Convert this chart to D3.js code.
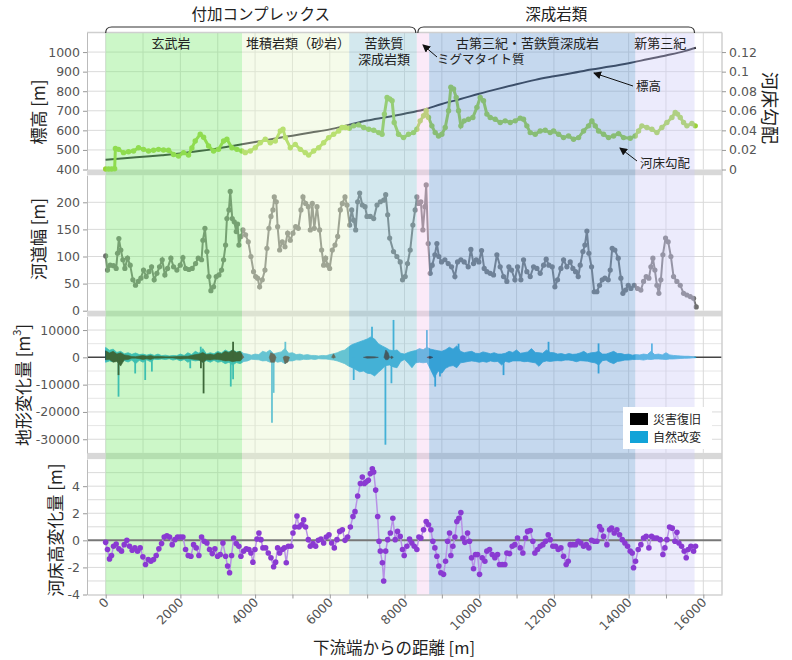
<!DOCTYPE html>
<html>
<head>
<meta charset="utf-8">
<script src="https://cdn.jsdelivr.net/npm/d3@7"></script>
<style>
  body { margin: 0; background: #fff; }
  svg text { font-family: 'Noto Sans CJK JP', 'Noto Sans', sans-serif; }
  .tick text { font-family: 'DejaVu Sans', sans-serif; }
</style>
</head>
<body>
<script>
// distance from downstream end [m] vs elevation [m]
const elevation = [
  [0, 450], [500, 457], [1000, 465], [1500, 473], [2000, 482], [2500, 494], [3000, 508],
  [3500, 524], [4000, 540], [4500, 557], [5000, 573], [5500, 589], [6000, 605], [6500, 628],
  [7000, 650], [7500, 667], [8000, 685], [8500, 705], [9000, 735], [9500, 760], [10000, 787],
  [10500, 812], [11000, 836], [11500, 858], [12000, 876], [12500, 893], [13000, 911],
  [13500, 926], [14000, 943], [14500, 963], [15000, 983], [15500, 1005], [15800, 1022]
]

// bed gradient (right axis)
const bedGradient = [
  [0, 0.0005], [80, 0.0005], [160, 0.0005], [240, 0.0008], [260, 0.0215], [344, 0.0206],
  [478, 0.0172], [612, 0.0182], [746, 0.0189], [879, 0.0223], [1013, 0.0206], [1147, 0.0189],
  [1281, 0.0196], [1415, 0.0206], [1549, 0.0199], [1683, 0.0196], [1817, 0.0154], [1951, 0.0137],
  [2085, 0.0172], [2219, 0.0147], [2308, 0.022], [2397, 0.0292], [2531, 0.036], [2621, 0.033],
  [2755, 0.024], [2888, 0.0189], [3022, 0.0206], [3156, 0.0292], [3246, 0.0309], [3380, 0.0223],
  [3513, 0.0206], [3647, 0.0189], [3737, 0.0172], [3871, 0.0189], [4005, 0.0223], [4139, 0.0274],
  [4273, 0.0309], [4407, 0.0274], [4541, 0.0292], [4675, 0.0394], [4747, 0.0412], [4810, 0.0326],
  [4943, 0.0223], [5077, 0.0257], [5211, 0.0206], [5345, 0.0172], [5434, 0.0147], [5568, 0.0189],
  [5702, 0.0223], [5836, 0.0274], [5970, 0.0326], [6104, 0.036], [6238, 0.0394], [6327, 0.0429],
  [6417, 0.0429], [6523, 0.0422], [6640, 0.0446], [6774, 0.0456], [6908, 0.0429], [7042, 0.0412],
  [7176, 0.0401], [7310, 0.0377], [7400, 0.036], [7462, 0.0566], [7534, 0.0737], [7605, 0.072],
  [7668, 0.0703], [7724, 0.048], [7840, 0.036], [7974, 0.0326], [8108, 0.036], [8242, 0.0377],
  [8331, 0.0412], [8420, 0.0497], [8510, 0.0549], [8581, 0.06], [8643, 0.0532], [8733, 0.0446],
  [8822, 0.0377], [8911, 0.0343], [9000, 0.036], [9090, 0.0429], [9179, 0.06], [9241, 0.084],
  [9313, 0.0823], [9384, 0.0737], [9447, 0.06], [9509, 0.0446], [9598, 0.0497], [9714, 0.0514],
  [9830, 0.0532], [9938, 0.0635], [10027, 0.0737], [10116, 0.0703], [10205, 0.0566], [10295, 0.0532],
  [10428, 0.0514], [10562, 0.048], [10696, 0.0497], [10830, 0.048], [10964, 0.0497], [11098, 0.0525],
  [11187, 0.0514], [11276, 0.0446], [11366, 0.0377], [11499, 0.036], [11633, 0.0394], [11767, 0.0401],
  [11901, 0.0377], [11990, 0.0394], [12124, 0.036], [12258, 0.0326], [12392, 0.0343], [12526, 0.0309],
  [12660, 0.0326], [12794, 0.0394], [12927, 0.0446], [13017, 0.0497], [13106, 0.0446], [13196, 0.0394],
  [13329, 0.036], [13463, 0.0326], [13597, 0.0343], [13731, 0.0367], [13865, 0.0326], [14043, 0.0319],
  [14177, 0.0343], [14266, 0.0394], [14355, 0.0446], [14489, 0.0429], [14623, 0.0412], [14757, 0.0377],
  [14891, 0.0429], [15025, 0.048], [15159, 0.0532], [15248, 0.0583], [15310, 0.0566], [15382, 0.0532],
  [15471, 0.048], [15560, 0.0446], [15694, 0.047], [15783, 0.0446]
]

// channel width [m]
const channelWidth = [
  [0, 101], [49, 75], [121, 84], [210, 83], [281, 78], [317, 106], [353, 133], [406, 112], [460, 94],
  [513, 78], [585, 97], [656, 84], [728, 57], [799, 47], [871, 54], [942, 60], [1013, 75], [1085, 63],
  [1156, 72], [1228, 81], [1299, 57], [1371, 69], [1442, 81], [1514, 94], [1585, 66], [1657, 78],
  [1746, 97], [1817, 81], [1906, 75], [1996, 84], [2067, 98], [2139, 78], [2228, 76], [2317, 78],
  [2407, 87], [2478, 97], [2567, 94], [2603, 130], [2657, 152], [2710, 109], [2764, 63], [2817, 37],
  [2889, 44], [2960, 63], [3032, 66], [3103, 75], [3157, 94], [3210, 121], [3246, 170], [3300, 186],
  [3335, 220], [3389, 170], [3442, 164], [3496, 146], [3532, 160], [3567, 121], [3621, 137], [3675, 149],
  [3746, 140], [3817, 127], [3889, 100], [3960, 72], [4014, 63], [4067, 60], [4121, 44], [4192, 57],
  [4264, 75], [4317, 115], [4371, 152], [4425, 174], [4478, 186], [4514, 210], [4568, 201], [4603, 155],
  [4657, 112], [4728, 127], [4800, 118], [4871, 143], [4943, 130], [5014, 143], [5086, 155], [5157, 152],
  [5228, 186], [5282, 210], [5353, 198], [5425, 192], [5478, 149], [5532, 198], [5585, 152], [5657, 192],
  [5728, 149], [5782, 112], [5835, 84], [5889, 97], [5943, 84], [5996, 78], [6068, 112], [6139, 121],
  [6211, 137], [6282, 186], [6336, 198], [6407, 210], [6460, 195], [6532, 158], [6586, 186], [6639, 167],
  [6693, 149], [6746, 201], [6800, 217], [6871, 195], [6943, 192], [6996, 174], [7085, 174], [7175, 170],
  [7264, 195], [7353, 201], [7443, 204], [7496, 214], [7550, 177], [7603, 134], [7706, 109], [7796, 100],
  [7885, 90], [7947, 57], [8019, 63], [8081, 87], [8153, 112], [8224, 158], [8286, 186], [8331, 210],
  [8376, 198], [8438, 201], [8492, 149], [8545, 192], [8581, 232], [8634, 124], [8688, 69], [8742, 84],
  [8813, 103], [8867, 124], [8920, 100], [8991, 90], [9081, 94], [9170, 87], [9259, 81], [9349, 63],
  [9420, 90], [9509, 94], [9598, 90], [9705, 81], [9777, 113], [9848, 87], [9920, 94], [9991, 90],
  [10063, 111], [10134, 78], [10205, 72], [10295, 69], [10384, 66], [10473, 103], [10562, 81], [10652, 63],
  [10741, 54], [10794, 81], [10866, 75], [10955, 57], [11026, 81], [11116, 57], [11187, 94], [11276, 72],
  [11366, 63], [11455, 81], [11544, 78], [11633, 69], [11723, 84], [11794, 95], [11865, 84], [11955, 81],
  [12026, 44], [12097, 57], [12187, 78], [12258, 94], [12347, 81], [12437, 90], [12508, 78], [12579, 72],
  [12651, 63], [12704, 84], [12776, 109], [12829, 121], [12883, 147], [12936, 106], [13008, 81], [13079, 35],
  [13151, 35], [13222, 47], [13293, 57], [13365, 60], [13454, 57], [13508, 75], [13561, 115], [13632, 112],
  [13722, 97], [13793, 60], [13847, 32], [13918, 38], [13990, 47], [14061, 41], [14150, 47], [14239, 41],
  [14328, 38], [14400, 54], [14471, 63], [14543, 60], [14596, 81], [14650, 97], [14703, 75], [14757, 47],
  [14810, 32], [14864, 57], [14917, 103], [14989, 134], [15060, 127], [15132, 100], [15203, 63], [15292, 54],
  [15382, 47], [15471, 32], [15560, 29], [15650, 26], [15739, 23], [15810, 7]
]

// terrain change [m3]: natural change envelope [distance, max, min]
const naturalChange = [
  [0, 3600, -1800], [100, 2600, -1300], [200, 3000, -1600], [300, 1800, -1000], [400, 2200, -1900],
  [500, 1300, -1200], [600, 1700, -1700], [700, 1100, -1000], [800, 1600, -2300], [900, 1000, -1100],
  [1000, 1200, -1800], [1100, 800, -900], [1200, 1200, -1600], [1300, 700, -700], [1400, 1200, -800],
  [1500, 600, -600], [1600, 800, -800], [1700, 500, -500], [1800, 700, -1000], [1900, 600, -700],
  [2000, 1200, -1300], [2100, 700, -800], [2200, 1700, -1800], [2300, 1000, -1000], [2400, 2200, -1300],
  [2500, 1500, -1100], [2600, 3200, -1800], [2700, 1200, -1200], [2800, 1700, -1800], [2900, 1300, -1100],
  [3000, 2200, -1800], [3100, 1600, -1500], [3200, 2700, -2300], [3300, 2000, -1800], [3400, 2700, -2800],
  [3500, 2000, -1900], [3600, 2200, -2300], [3700, 1400, -1500], [3800, 1200, -1300], [3900, 800, -700],
  [4000, 1200, -800], [4100, 1000, -900], [4200, 2200, -1300], [4300, 1800, -1200], [4400, 2700, -1800],
  [4500, 1300, -1100], [4600, 1700, -1800], [4700, 2000, -1500], [4800, 3200, -2300], [4900, 1500, -1300],
  [5000, 1700, -1300], [5100, 1000, -900], [5200, 1200, -1000], [5300, 800, -700], [5400, 1000, -800],
  [5500, 700, -600], [5600, 700, -800], [5700, 500, -500], [5800, 700, -600], [5900, 600, -600],
  [6000, 1000, -800], [6100, 1300, -1000], [6200, 1700, -1300], [6300, 2300, -1800], [6400, 2700, -2300],
  [6500, 3800, -3200], [6600, 4700, -3800], [6700, 5200, -4500], [6800, 5700, -5300], [6900, 6200, -5000],
  [7000, 6700, -5800], [7100, 7500, -6000], [7200, 6700, -6800], [7300, 5000, -5500], [7400, 4200, -4300],
  [7500, 3500, -3000], [7600, 2700, -2800], [7700, 2400, -3500], [7800, 2700, -3800], [7900, 1500, -1500],
  [8000, 1200, -800], [8100, 1800, -2200], [8200, 2200, -3800], [8300, 2500, -2000], [8400, 3200, -1800],
  [8500, 2800, -2000], [8600, 3700, -1800], [8700, 3000, -4500], [8800, 2700, -7400], [8900, 2400, -5000],
  [9000, 2200, -5800], [9100, 2800, -4000], [9200, 3700, -3300], [9300, 3000, -3000], [9400, 4200, -3800],
  [9500, 2200, -2000], [9600, 1700, -1800], [9700, 2000, -1500], [9800, 2200, -1300], [9900, 1500, -1500],
  [10000, 1400, -1800], [10100, 2000, -1500], [10200, 1700, -1800], [10300, 1300, -1300], [10400, 1700, -1600],
  [10500, 1200, -1500], [10600, 1200, -2800], [10700, 1500, -1500], [10800, 2200, -1800], [10900, 1800, -1300],
  [11000, 2700, -1300], [11100, 1500, -1300], [11200, 1700, -1600], [11300, 2000, -1500], [11400, 3200, -1800],
  [11500, 1800, -2000], [11600, 1700, -3300], [11700, 1500, -1700], [11800, 2700, -1300], [11900, 1800, -1500],
  [12000, 1700, -1300], [12100, 1200, -1200], [12200, 1400, -1300], [12300, 1000, -1000], [12400, 1400, -1000],
  [12500, 1100, -1200], [12600, 1200, -1600], [12700, 1600, -1200], [12800, 2200, -1300], [12900, 1300, -1400],
  [13000, 1700, -1800], [13100, 1800, -2000], [13200, 2200, -2800], [13300, 1200, -1200], [13400, 1200, -1000],
  [13500, 1700, -1800], [13600, 2200, -2300], [13700, 1400, -1500], [13800, 1400, -1300], [13900, 1000, -1000],
  [14000, 1200, -1000], [14100, 800, -800], [14200, 1000, -800], [14300, 900, -800], [14400, 1200, -1000],
  [14500, 1000, -700], [14600, 2200, -800], [14700, 1000, -600], [14800, 1200, -600], [14900, 900, -700],
  [15000, 1700, -800], [15100, 900, -600], [15200, 700, -600], [15300, 600, -500], [15400, 500, -400],
  [15500, 400, -350], [15600, 400, -300], [15700, 250, -200], [15800, 100, -100]
]
const naturalSpikes = [
  [344, -14400], [790, -5900], [1058, -8300], [1237, -5200], [2264, -4000], [2545, 3900], [3349, -10700],
  [3411, -8000], [4452, -24000], [4497, -13000], [4810, 5700], [6640, -8300], [7130, 11200], [7489, -32000],
  [7650, -9500], [7706, 13700], [8599, 10000], [8822, -10700], [8950, -7000], [9447, 5000], [10651, -6500],
  [11856, 5700], [13195, 5100], [13195, -5900], [14623, 5100]
]

// disaster recovery envelope (null = gap)
const disasterRecovery = [
  [0, 2400, -900], [100, 1600, -800], [200, 2200, -1800], [300, 1200, -1500], [400, 1700, -3200],
  [500, 900, -900], [600, 700, -800], [700, 300, -300], [800, 250, -300], [900, 500, -500],
  [1000, 700, -800], [1100, 400, -500], [1200, 700, -800], [1300, 300, -300], [1400, 400, -300],
  [1600, 200, -200], [1800, 200, -200], [2000, 400, -600], [2200, 400, -400], [2400, 1000, -800],
  [2500, 1200, -1000], [2600, 1800, -1800], [2700, 1000, -900], [2800, 1200, -1000], [2900, 900, -700],
  [3000, 1700, -800], [3100, 1300, -1000], [3200, 2200, -1300], [3300, 1800, -1200], [3400, 2700, -1600],
  [3500, 1800, -1300], [3600, 2200, -1300], [3700, 0, 0],
  null, [4380, 0, 0], [4420, 1700, -1800], [4520, 1000, -1800], [4560, 0, 0],
  null, [4750, 0, 0], [4800, 500, -2300], [4880, 300, -1700], [4920, 0, 0],
  null, [6050, 0, 0], [6100, 1300, -300], [6150, 0, 0],
  null, [6900, 0, 0], [7000, 300, -300], [7200, 200, -200], [7300, 0, 0],
  null, [7450, 0, 0], [7500, 2700, -900], [7560, 1700, -800], [7600, 0, 0],
  null, [7620, 0, 0], [7650, 500, -500], [7700, 0, 0],
  null, [8600, 0, 0], [8680, 400, -400], [8760, 0, 0]
]
const disasterSpikes = [[344, -6500], [2550, -4000], [2621, -13200], [3411, 5700]]

// bed elevation change [m]
const bedChange = [
  [0, -0.15], [49, -0.68], [103, -1.37], [156, -1.12], [210, -0.44], [281, -0.27], [353, -0.63], [424, -0.8],
  [496, -0.32], [567, 0], [638, -0.44], [710, -0.73], [781, -0.56], [853, -0.8], [924, -0.56], [996, -1.22],
  [1067, -1.78], [1139, -1.41], [1210, -1.54], [1281, -1.41], [1353, -1.12], [1424, -0.63], [1496, -0.24],
  [1567, 0.24], [1639, 0.34], [1710, 0.24], [1781, -0.32], [1853, 0.05], [1924, 0.24], [1996, 0.24],
  [2067, 0.24], [2139, -0.68], [2210, -1.12], [2282, -1.17], [2353, -0.32], [2424, -0.56], [2496, -1.12],
  [2567, 0.24], [2639, -0.07], [2710, -0.2], [2781, -0.68], [2853, -0.98], [2924, -0.63], [2996, -1.17],
  [3067, -1.05], [3139, -0.2], [3210, -1.17], [3264, -1.9], [3317, -2.39], [3371, -1.12], [3424, 0.17],
  [3496, -0.24], [3567, -0.44], [3621, -1.17], [3692, -0.8], [3764, -0.63], [3835, -0.68], [3889, -0.93],
  [3942, -1.61], [3996, -0.68], [4049, 0.1], [4103, 0.54], [4157, 0.05], [4210, -0.56], [4282, -0.56],
  [4353, -0.93], [4425, -1.29], [4496, -1.95], [4550, -1.61], [4603, -0.56], [4657, -0.93], [4728, -0.68],
  [4782, -0.56], [4835, -1.66], [4889, -0.44], [4960, -0.44], [5014, 0.54], [5067, 0.98], [5121, 1.8],
  [5175, 0.98], [5246, 1.15], [5300, 1.51], [5353, 0.98], [5425, 0.05], [5478, -0.44], [5550, -0.24],
  [5621, -0.44], [5692, 0], [5764, 0.1], [5835, -0.2], [5907, 0.24], [5978, 0.41], [6050, -0.2],
  [6121, -0.56], [6192, 0.05], [6264, 0.66], [6336, 0.78], [6407, 0], [6478, 0.24], [6550, 0.98],
  [6621, 1.76], [6675, 2.12], [6746, 3.27], [6818, 4.2], [6871, 4.68], [6925, 4.2], [6978, 4.32],
  [7032, 4.44], [7085, 4.93], [7139, 5.29], [7175, 5.05], [7228, 3.71], [7282, 1.76], [7318, -0.07],
  [7353, -0.8], [7407, -1.66], [7443, -3.0], [7496, -0.8], [7550, 0.05], [7621, 0.54], [7688, 1.63],
  [7751, 0.05], [7813, 0.66], [7885, 0.29], [7947, -0.68], [7992, -1.12], [8063, -0.44], [8135, 0.1],
  [8197, -0.2], [8260, -0.44], [8331, -0.68], [8385, 0.24], [8438, 0.17], [8510, 0.78], [8581, 1.39],
  [8643, 1.15], [8706, 0.78], [8759, -0.07], [8813, -0.56], [8867, -1.17], [8920, -1.9], [8974, -2.39],
  [9045, -2.51], [9099, -1.54], [9152, -0.07], [9206, 0.54], [9241, -1.12], [9295, -0.44], [9349, 0.24],
  [9402, 1.39], [9456, 1.63], [9509, 2.05], [9563, 0.17], [9616, -0.15], [9688, 0.54], [9741, -0.07],
  [9795, -1.29], [9848, -2.1], [9902, -1.05], [9955, -1.05], [10009, -2.51], [10080, -1.29], [10152, -1.54],
  [10205, -0.8], [10277, -0.68], [10348, -1.05], [10419, -1.29], [10491, -1.05], [10544, -1.78],
  [10616, -1.78], [10687, -1.78], [10741, -0.93], [10812, -0.98], [10884, -0.44], [10955, -0.32],
  [11026, 0.17], [11098, -0.56], [11169, -0.93], [11241, 0.17], [11294, 0.66], [11366, 0.73], [11437, -0.07],
  [11490, -0.93], [11562, -0.68], [11633, -0.44], [11705, -0.32], [11776, -0.07], [11848, 0.41], [11901, 0.05],
  [11972, -0.44], [12044, -0.44], [12115, -0.68], [12187, -0.56], [12258, -1.17], [12329, -1.78],
  [12383, -1.54], [12437, -0.32], [12508, -0.32], [12579, -0.32], [12651, -0.07], [12722, -0.2],
  [12794, -0.44], [12865, -0.32], [12936, -0.56], [13008, 0], [13079, -0.07], [13151, -0.07], [13222, 1.02],
  [13275, 0.78], [13329, 0.29], [13418, -0.32], [13490, 0.78], [13543, 0.9], [13614, 0.54], [13686, 0.78],
  [13757, 0.41], [13829, 0.05], [13900, -0.2], [13971, -0.44], [14043, -0.8], [14097, -0.93], [14132, -2.02],
  [14186, -1.54], [14257, -0.68], [14328, -0.32], [14400, 0.17], [14471, 0.29], [14543, -0.56], [14614, 0.29],
  [14685, 0.17], [14757, 0.17], [14846, 0.05], [14918, -1.05], [14971, -0.56], [15025, 0.05], [15096, 0.98],
  [15168, 0.9], [15239, -0.07], [15293, 0.59], [15346, -0.2], [15417, -0.44], [15489, -0.8], [15542, -1.29],
  [15596, -0.68], [15667, -0.44], [15739, -0.8], [15792, -0.44]
]

// geology zones [from, to, colour]
const zones = [
  [0, 3650, '#80eb76'], [3650, 6520, '#e6f5cb'], [6520, 8330, '#91c5d4'],
  [8330, 8660, '#f5caed'], [8660, 14180, '#6e9ed4'], [14180, 15765, '#cfcdf7']
]
const zoneLabels = [
  ['玄武岩', 1750, 0], ['堆積岩類（砂岩）', 5150, 0], ['苦鉄質', 7450, 0], ['深成岩類', 7450, 1],
  ['古第三紀・苦鉄質深成岩', 11290, 0], ['新第三紀', 14850, 0]
]
const groups = [['付加コンプレックス', 0, 8330], ['深成岩類', 8330, 15765]]

const xTicks = d3.range(0, 16001, 2000)
const elevTicks = d3.range(400, 1001, 100)
const gradTicks = [0, 0.02, 0.04, 0.06, 0.08, 0.1, 0.12]
const widthTicks = [0, 50, 100, 150, 200]
const changeTicks = [-30000, -20000, -10000, 0, 10000]
const bedTicks = [-4, -2, 0, 2, 4]

const W = 792, H = 660
const left = 87, right = 722

const x = d3.scaleLinear().domain([-500, 16500]).range([left, right])
const y1 = d3.scaleLinear().domain([400, 1100]).range([169.5, 32.5])
const y1r = d3.scaleLinear().domain([0, 0.14]).range([169.5, 32.5])
const y2 = d3.scaleLinear().domain([0, 250]).range([310.7, 175.2])
const y3 = d3.scaleLinear().domain([-35000, 15000]).range([452.9, 316.4])
const y4 = d3.scaleLinear().domain([-4, 6]).range([594.5, 459.1])

const svg = d3.select(document.body).append('svg').attr('width', W).attr('height', H)

const gridColor = '#dadada'
const grid = svg.append('g')

// horizontal grid lines per panel
const hGrid = (scale, values, color) => {
  grid.selectAll(null).data(values).enter().append('line')
    .attr('x1', left).attr('x2', right)
    .attr('y1', (d) => scale(d)).attr('y2', (d) => scale(d))
    .attr('stroke', color || gridColor).attr('stroke-width', 1)
}
hGrid(y1, d3.range(500, 1101, 100))
hGrid(y2, [50, 100, 150, 200])
hGrid(y3, [-30000, -20000, -10000, 10000])
hGrid(y3, [-25000, -15000, -5000, 5000], '#e6e6e6')
hGrid(y4, [-3, -2, -1, 1, 2, 3, 4, 5])

// vertical grid lines every 1000 m
const panels = [y1, y2, y3, y4]
panels.forEach((s) => {
  grid.selectAll(null).data(d3.range(0, 16001, 1000)).enter().append('line')
    .attr('x1', (d) => x(d)).attr('x2', (d) => x(d))
    .attr('y1', s.range()[1]).attr('y2', s.range()[0])
    .attr('stroke', gridColor).attr('stroke-width', 1)
})

// separators between panels
const seps = [[y1.range()[0], y2.range()[1]], [y2.range()[0], y3.range()[1]], [y3.range()[0], y4.range()[1]]]
svg.selectAll(null).data(seps).enter().append('rect')
  .attr('x', left).attr('width', right - left)
  .attr('y', (d) => d[0]).attr('height', (d) => d[1] - d[0])
  .attr('fill', '#d8d8d8')

// panel 1: elevation and bed gradient
svg.append('path').datum(elevation)
  .attr('fill', 'none').attr('stroke', '#1c1c24').attr('stroke-width', 2)
  .attr('d', d3.line().x((d) => x(d[0])).y((d) => y1(d[1])).curve(d3.curveMonotoneX))

const gradColor = '#9ad236'
svg.append('path').datum(bedGradient)
  .attr('fill', 'none').attr('stroke', gradColor).attr('stroke-width', 3)
  .attr('d', d3.line().x((d) => x(d[0])).y((d) => y1r(d[1])))
svg.append('g').selectAll('circle').data(bedGradient).enter().append('circle')
  .attr('cx', (d) => x(d[0])).attr('cy', (d) => y1r(d[1])).attr('r', 2.7)
  .attr('fill', gradColor)

// panel 2: channel width
const widthColor = '#707070'
svg.append('path').datum(channelWidth)
  .attr('fill', 'none').attr('stroke', widthColor).attr('stroke-width', 2)
  .attr('d', d3.line().x((d) => x(d[0])).y((d) => y2(d[1])))
svg.append('g').selectAll('circle').data(channelWidth).enter().append('circle')
  .attr('cx', (d) => x(d[0])).attr('cy', (d) => y2(d[1])).attr('r', 2.6)
  .attr('fill', widthColor)

// panel 3: terrain change
const natColor = '#12a3d8'
svg.append('line')
  .attr('x1', left).attr('x2', right).attr('y1', y3(0)).attr('y2', y3(0))
  .attr('stroke', '#444').attr('stroke-width', 1.5)
svg.append('path').datum(naturalChange)
  .attr('fill', natColor).attr('stroke', natColor).attr('stroke-width', 0.8)
  .attr('d', d3.area().x((d) => x(d[0])).y0((d) => y3(d[2])).y1((d) => y3(d[1])))
svg.append('g').selectAll('line').data(naturalSpikes).enter().append('line')
  .attr('x1', (d) => x(d[0])).attr('x2', (d) => x(d[0]))
  .attr('y1', y3(0)).attr('y2', (d) => y3(d[1]))
  .attr('stroke', natColor).attr('stroke-width', 1.8)
svg.append('path').datum(disasterRecovery)
  .attr('fill', '#111').attr('stroke', '#111').attr('stroke-width', 0.6)
  .attr('d', d3.area().defined((d) => d !== null)
    .x((d) => x(d[0])).y0((d) => y3(d[2])).y1((d) => y3(d[1])))
svg.append('g').selectAll('line').data(disasterSpikes).enter().append('line')
  .attr('x1', (d) => x(d[0])).attr('x2', (d) => x(d[0]))
  .attr('y1', y3(0)).attr('y2', (d) => y3(d[1]))
  .attr('stroke', '#111').attr('stroke-width', 1.8)

// geology zones overlaid on all panels
svg.append('g').selectAll('rect').data(zones).enter().append('rect')
  .attr('x', (d) => x(d[0])).attr('width', (d) => x(d[1]) - x(d[0]))
  .attr('y', y1.range()[1]).attr('height', y4.range()[0] - y1.range()[1])
  .attr('fill', (d) => d[2]).attr('fill-opacity', 0.4)

// panel 4: bed elevation change
svg.append('line')
  .attr('x1', left).attr('x2', right).attr('y1', y4(0)).attr('y2', y4(0))
  .attr('stroke', '#777').attr('stroke-width', 2)
svg.append('path').datum(bedChange)
  .attr('fill', 'none').attr('stroke', '#b892e6').attr('stroke-width', 1.5)
  .attr('d', d3.line().x((d) => x(d[0])).y((d) => y4(d[1])))
svg.append('g').selectAll('circle').data(bedChange).enter().append('circle')
  .attr('cx', (d) => x(d[0])).attr('cy', (d) => y4(d[1])).attr('r', 2.8)
  .attr('fill', '#8a3ad2')

// frame
svg.append('line').attr('x1', left).attr('x2', right).attr('y1', 32.5).attr('y2', 32.5)
  .attr('stroke', '#cfcfcf').attr('stroke-width', 1.5)
svg.append('line').attr('x1', right).attr('x2', right).attr('y1', 32.5).attr('y2', y4.range()[0])
  .attr('stroke', '#cfcfcf').attr('stroke-width', 1.5)

// axes
const plain = (d) => String(d)
const styleAxis = (g) => {
  g.select('.domain').attr('stroke', '#bbb')
  g.selectAll('.tick line').attr('stroke', '#999')
  g.selectAll('.tick text').attr('fill', '#555').attr('font-size', 12.5)
}
svg.append('g').attr('transform', `translate(${left},0)`)
  .call(d3.axisLeft(y1).tickValues(elevTicks).tickSize(4).tickSizeOuter(0).tickFormat(plain)).call(styleAxis)
svg.append('g').attr('transform', `translate(${right},0)`)
  .call(d3.axisRight(y1r).tickValues(gradTicks).tickSize(4).tickSizeOuter(0).tickFormat(plain))
  .call(styleAxis).call((g) => g.select('.domain').remove())
svg.append('g').attr('transform', `translate(${left},0)`)
  .call(d3.axisLeft(y2).tickValues(widthTicks).tickSize(4).tickSizeOuter(0).tickFormat(plain)).call(styleAxis)
svg.append('g').attr('transform', `translate(${left},0)`)
  .call(d3.axisLeft(y3).tickValues(changeTicks).tickSize(4).tickSizeOuter(0).tickFormat(plain))
  .call(styleAxis)
svg.append('g').attr('transform', `translate(${left},0)`)
  .call(d3.axisLeft(y4).tickValues(bedTicks).tickSize(4).tickSizeOuter(0).tickFormat(plain)).call(styleAxis)

// x axis with rotated labels
const xAxis = svg.append('g').attr('transform', `translate(0,${y4.range()[0]})`)
  .call(d3.axisBottom(x).tickValues(d3.range(0, 16001, 1000)).tickSize(4).tickSizeOuter(0)
    .tickFormat((d) => (xTicks.includes(d) ? String(d) : '')))
  .call(styleAxis)
xAxis.selectAll('.tick text')
  .attr('text-anchor', 'end').attr('dy', '0.35em')
  .attr('transform', 'translate(4,2) rotate(-45)')
  .attr('y', 0).attr('x', -5)

// axis titles
const yTitle = (txt, cx, cy, rot, size) => {
  svg.append('text').attr('transform', `translate(${cx},${cy}) rotate(${rot})`)
    .attr('text-anchor', 'middle').attr('dominant-baseline', 'central')
    .attr('font-size', size || 17).attr('fill', '#222').text(txt)
}
yTitle('標高 [m]', 37, 112, -90)
yTitle('河道幅 [m]', 37, 239, -90)
yTitle('河床高変化量 [m]', 54, 530, -90)
yTitle('河床勾配', 771, 108, 90, 18)
svg.append('text').attr('transform', 'translate(22,385) rotate(-90)')
  .attr('text-anchor', 'middle').attr('dominant-baseline', 'central')
  .attr('font-size', 17).attr('fill', '#222')
  .call((t) => {
    t.append('tspan').text('地形変化量 [m')
    t.append('tspan').attr('font-size', 11).attr('dy', -6).text('3')
    t.append('tspan').attr('dy', 6).text(']')
  })
svg.append('text').attr('x', 394).attr('y', 654).attr('text-anchor', 'middle')
  .attr('font-size', 16.5).attr('fill', '#222').text('下流端からの距離 [m]')

// group brackets and labels
const bracket = svg.append('g')
groups.forEach(([name, a, b], i) => {
  const x0 = x(a) + (i ? 1 : 0), x1 = x(b) - (i ? 0 : 1)
  bracket.append('path')
    .attr('d', `M${x0},33 Q${x0},27 ${x0 + 6},27 L${x1 - 6},27 Q${x1},27 ${x1},33`)
    .attr('fill', 'none').attr('stroke', '#333').attr('stroke-width', 1.2)
  bracket.append('text').attr('x', (x0 + x1) / 2).attr('y', 20).attr('text-anchor', 'middle')
    .attr('font-size', 15.5).attr('fill', '#222').text(name)
})

svg.append('g').selectAll('text').data(zoneLabels).enter().append('text')
  .attr('x', (d) => x(d[1])).attr('y', (d) => 48 + d[2] * 16).attr('text-anchor', 'middle')
  .attr('font-size', 13).attr('fill', '#222').text((d) => d[0])

// annotations with arrows
svg.append('defs').append('marker')
  .attr('id', 'arrow').attr('markerWidth', 8).attr('markerHeight', 8)
  .attr('refX', 7).attr('refY', 4).attr('orient', 'auto').attr('markerUnits', 'userSpaceOnUse')
  .append('path').attr('d', 'M0,0 L8,4 L0,8 Z').attr('fill', '#111')

const notes = [
  ['ミグマタイト質', 437, 64, 437, 57, 423, 45],
  ['標高', 636, 91, 633, 86, 594, 73],
  ['河床勾配', 640, 168, 637, 161, 620, 148]
]
notes.forEach(([txt, tx, ty, ax, ay, bx, by]) => {
  svg.append('line').attr('x1', ax).attr('y1', ay).attr('x2', bx).attr('y2', by)
    .attr('stroke', '#111').attr('stroke-width', 1).attr('marker-end', 'url(#arrow)')
  svg.append('text').attr('x', tx).attr('y', ty).attr('font-size', 12.5).attr('fill', '#222').text(txt)
})

// legend for panel 3
const legend = svg.append('g').attr('transform', 'translate(623,407)')
legend.append('rect').attr('width', 89).attr('height', 42).attr('fill', '#fff')
const legendItems = [['災害復旧', '#000'], ['自然改変', natColor]]
legendItems.forEach(([name, c], i) => {
  legend.append('rect').attr('x', 7).attr('y', 6 + i * 18).attr('width', 18).attr('height', 12).attr('fill', c)
  legend.append('text').attr('x', 30).attr('y', 17 + i * 18).attr('font-size', 12).attr('fill', '#222').text(name)
})
</script>
</body>
</html>
